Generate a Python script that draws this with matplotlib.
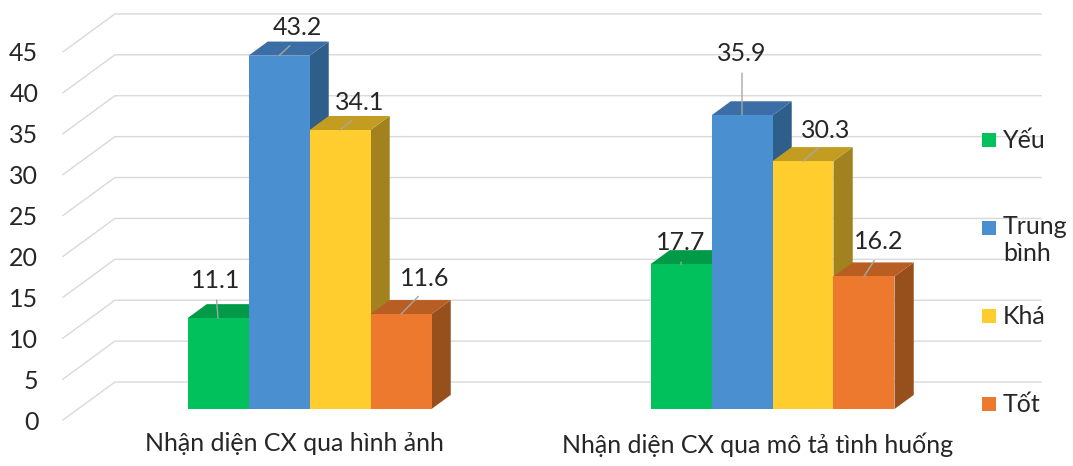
import numpy as np
import matplotlib.pyplot as plt
from matplotlib.patches import Polygon, Rectangle

plt.rcParams['font.family'] = ['Lato', 'DejaVu Sans']

# data
groups = ['Nhận diện CX qua hình ảnh', 'Nhận diện CX qua mô tả tình huống']
levels = ['Yếu', 'Trung bình', 'Khá', 'Tốt']
yeu = [11.1, 17.7]
trung_binh = [43.2, 35.9]
kha = [34.1, 30.3]
tot = [11.6, 16.2]
y_ticks = [0, 5, 10, 15, 20, 25, 30, 35, 40, 45]

series = [yeu, trung_binh, kha, tot]

# colours: front face, top face, side face
front_col = ['#00c15b', '#4a8fd0', '#ffcd2e', '#ec792e']
top_col = ['#009a48', '#3a6ea5', '#c29d22', '#b95e22']
side_col = ['#00803c', '#2f5e8a', '#a1821f', '#974f1b']

# label offsets in pixels (labels were dragged by hand in the source)
label_off = [[(-2, 38), (18, 28), (20, 28), (24, 36)],
             [(0, 22), (0, 62), (23, 31), (15, 35)]]

# fake 3d: depth vector of the whole floor, bars sit between t0 and t1
px_x = 463.0     # pixels per category unit
px_y = 8.18      # pixels per value unit
DX = 52 / px_x
DY = 38 / px_y
t0, t1 = 0.29, 0.66
w = 61 / px_x


def proj(x, v, t):
    return x + (t - t0) * DX, v + (t - t0) * DY


W, H = 1073, 466
fig = plt.figure(figsize=(W / 100, H / 100), dpi=100)
ax_left, ax_bottom = 48, 428
ax = fig.add_axes([ax_left / W, (H - ax_bottom) / H, 1 - ax_left / W, ax_bottom / H])
ax.set_xlim((ax_left - 309.5) / px_x, (W - 309.5) / px_x)
ax.set_ylim((409 - ax_bottom) / px_y, 409 / px_y)

# walls with gridlines
for v in y_ticks:
    p0 = proj(-0.5, v, 0)
    p1 = proj(-0.5, v, 1)
    p2 = proj(1.5, v, 1)
    ax.plot([p0[0], p1[0], p2[0]], [p0[1], p1[1], p2[1]], color='#d9d9d9', lw=1, zorder=1)

# bars
for g in range(len(groups)):
    for k, s in enumerate(series):
        h = s[g]
        xl = g + (k - 2) * w
        xr = xl + w
        side = [proj(xr, 0, t0), proj(xr, 0, t1), proj(xr, h, t1), proj(xr, h, t0)]
        top = [proj(xl, h, t0), proj(xr, h, t0), proj(xr, h, t1), proj(xl, h, t1)]
        front = [(xl, 0), (xr, 0), (xr, h), (xl, h)]
        z = 2 + k
        ax.add_patch(Polygon(side, closed=True, fc=side_col[k], ec='none', zorder=z))
        ax.add_patch(Polygon(top, closed=True, fc=top_col[k], ec='none', zorder=z))
        ax.add_patch(Polygon(front, closed=True, fc=front_col[k], ec='none', zorder=z))
        ax.annotate(f'{h:.1f}', xy=((xl + xr) / 2, h), xytext=label_off[g][k],
                    textcoords='offset pixels', ha='center', va='center',
                    fontsize=18, color='#262626', zorder=10,
                    arrowprops=dict(arrowstyle='-', color='#a6a6a6', lw=1,
                                    relpos=(0.5, 0), shrinkA=4, shrinkB=0))

# axes text
ax.set_yticks([proj(0, v, 0)[1] for v in y_ticks])
ax.set_yticklabels([str(v) for v in y_ticks])
ax.set_xticks([proj(g, 0, 0)[0] for g in range(len(groups))])
ax.set_xticklabels(groups)
ax.tick_params(axis='y', length=0, pad=7, labelsize=18, labelcolor='#262626')
ax.tick_params(axis='x', length=0, pad=3, labelsize=18, labelcolor='#262626')
for sp in ax.spines.values():
    sp.set_visible(False)
ax.patch.set_alpha(0)

# legend
for k, name in enumerate(levels):
    yc = 140 + 88 * k
    fig.add_artist(Rectangle(((982) / W, (H - yc - 7) / H), 14 / W, 14 / H,
                             transform=fig.transFigure, fc=front_col[k], ec='none'))
    if '\n' in name or ' ' in name:
        fig.text(1003 / W, (H - yc + 13) / H, name.replace(' ', '\n'), ha='left', va='top',
                 fontsize=18, color='#262626', linespacing=1.2)
    else:
        fig.text(1003 / W, (H - yc) / H, name, ha='left', va='center',
                 fontsize=18, color='#262626')

fig.savefig('out.png', dpi=100)
